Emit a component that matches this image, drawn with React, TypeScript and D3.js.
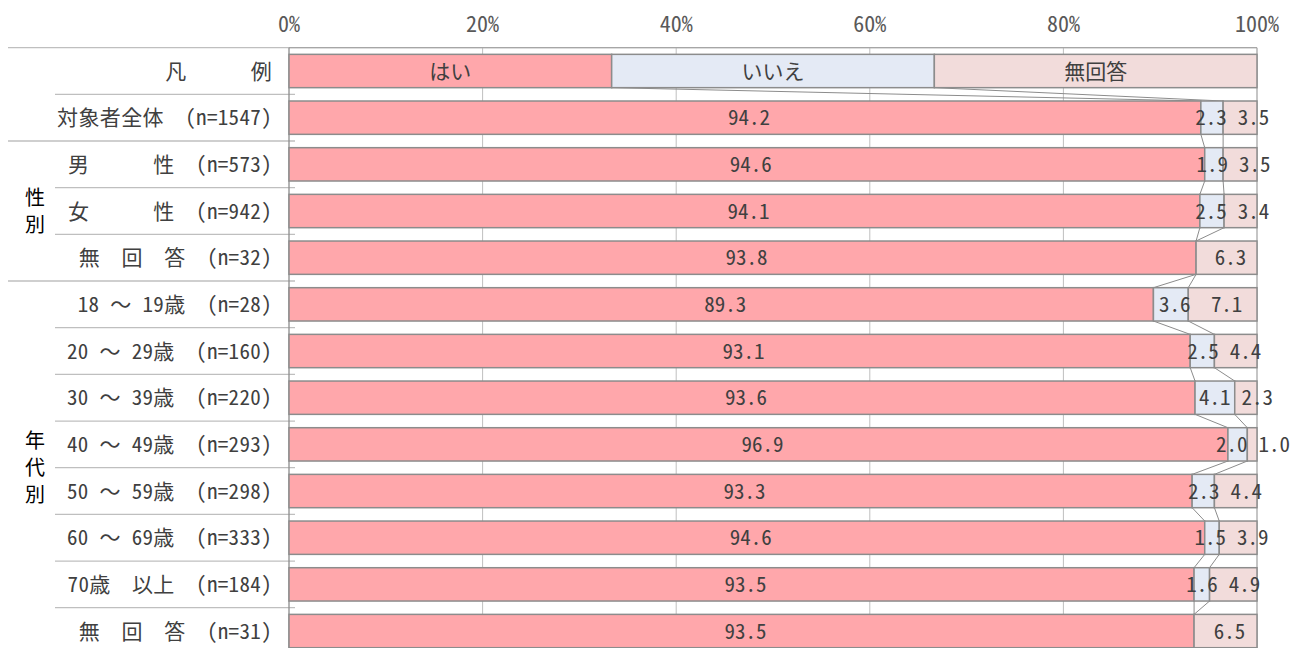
import React from 'react';
import * as d3 from 'd3';

// series / categories
const seriesKeys = ['yes', 'no', 'na'];
const seriesNames = ['はい', 'いいえ', '無回答'];
const seriesColors = ['#ffa7ab', '#e4eaf5', '#f2dcdb'];

const legendLabel = '凡　　　例';
const rowLabels = [
  '対象者全体　(n=1547)',
  '男　　　性　(n=573)',
  '女　　　性　(n=942)',
  '無　回　答　(n=32)',
  '18 ～ 19歳　(n=28)',
  '20 ～ 29歳　(n=160)',
  '30 ～ 39歳　(n=220)',
  '40 ～ 49歳　(n=293)',
  '50 ～ 59歳　(n=298)',
  '60 ～ 69歳　(n=333)',
  '70歳　以上　(n=184)',
  '無　回　答　(n=31)',
];
const yesValues = [94.2, 94.6, 94.1, 93.8, 89.3, 93.1, 93.6, 96.9, 93.3, 94.6, 93.5, 93.5];
const noValues = [2.3, 1.9, 2.5, 0, 3.6, 2.5, 4.1, 2.0, 2.3, 1.5, 1.6, 0];
const naValues = [3.5, 3.5, 3.4, 6.3, 7.1, 4.4, 2.3, 1.0, 4.4, 3.9, 4.9, 6.5];

const groupNames = ['性別', '年代別'];
const groupFirst = [1, 4]; // first data row (0-based) of each group
const groupLast = [3, 11];

const tickValues = [0, 20, 40, 60, 80, 100];

const W = 1293;
const H = 648;
const FONT = "'Noto Sans Mono CJK JP', 'Noto Sans CJK JP', 'DejaVu Sans Mono', sans-serif";
const HALF = 10.5; // width of a half-width glyph at 21px

export default function App() {
  const nRows = rowLabels.length + 1; // legend row on top
  const x = d3.scaleLinear().domain([0, 1]).range([289, 1257]);
  const y = d3
    .scaleBand<number>()
    .domain(d3.range(nRows))
    .range([47.67, 47.67 + nRows * 46.67])
    .paddingInner(0.286)
    .paddingOuter(0.143);
  const bw = y.bandwidth();
  const gap = y.step() - bw;

  const table = [{ yes: 1, no: 1, na: 1 }].concat(
    yesValues.map((v, i) => ({ yes: v, no: noValues[i], na: naValues[i] }))
  );
  const raw = [null as any].concat(yesValues.map((v, i) => [v, noValues[i], naValues[i]]));
  const stacked = d3.stack<any>().keys(seriesKeys).offset(d3.stackOffsetExpand)(table);

  const rowTop = (i: number) => (y(i) as number) - gap / 2;
  const cy = (i: number) => (y(i) as number) + bw / 2;

  const connectors: any[] = [];
  for (let i = 0; i < nRows - 1; i++) {
    for (let k = 0; k < 2; k++) {
      connectors.push({
        x1: x(stacked[k][i][1]),
        y1: (y(i) as number) + bw,
        x2: x(stacked[k][i + 1][1]),
        y2: y(i + 1) as number,
      });
    }
  }

  // label positions: centred in the segment, small ones pushed apart
  const labels: any[] = [];
  for (let i = 0; i < nRows; i++) {
    const row: any[] = [];
    stacked.forEach((s, k) => {
      const d = s[i];
      if (d[1] - d[0] <= 0) return;
      const text = i === 0 ? seriesNames[k] : raw[i][k].toFixed(1);
      row.push({ k, i, text, cx: x((d[0] + d[1]) / 2) + (i === 0 ? 0 : 4), w: text.length * HALF });
    });
    if (i > 0) {
      for (let j = row.length - 1; j > 0; j--) {
        const a = row[j - 1];
        const b = row[j];
        const space = b.cx - b.w / 2 - (a.cx + a.w / 2);
        if (space < 11) {
          const need = 11 - space;
          b.cx += need * 0.65;
          if (a.k !== 0) a.cx -= need * 0.35;
          else b.cx += need * 0.35;
        }
      }
    }
    labels.push(...row);
  }

  return (
    <svg
      width={W}
      height={H}
      style={{ position: 'absolute', left: 0, top: 0, background: '#fff', fontFamily: FONT }}
    >
      {/* axis labels */}
      {tickValues.map((t) => (
        <text key={t} x={x(t / 100)} y={32} textAnchor="middle" fontSize={22} fill="#595959">
          {t}%
        </text>
      ))}

      {/* gridlines */}
      {tickValues.slice(1, -1).map((t) => (
        <line key={t} x1={x(t / 100)} x2={x(t / 100)} y1={y.range()[0]} y2={H} stroke="#bfbfbf" />
      ))}

      {/* row separators in the label area */}
      {d3.range(nRows).map((i) => {
        const full = i === 0 || groupFirst.includes(i - 1);
        return (
          <line
            key={i}
            x1={full ? 8 : 55}
            x2={i === 0 ? 1257 : 295}
            y1={rowTop(i)}
            y2={rowTop(i)}
            stroke={'#bfbfbf'}
            strokeWidth={1.3}
          />
        );
      })}
      <line x1={289} x2={1257} y1={rowTop(0)} y2={rowTop(0)} stroke="#a6a6a6" strokeWidth={1.3} />
      <line x1={289} x2={289} y1={rowTop(0)} y2={H} stroke="#8c8c8c" strokeWidth={1.3} />
      <line x1={1257} x2={1257} y1={rowTop(0)} y2={H} stroke="#a6a6a6" strokeWidth={1.3} />

      {/* series lines */}
      {connectors.map((c, i) => (
        <line key={i} {...c} stroke="#8c8c8c" strokeWidth={1} />
      ))}

      {/* bars */}
      {stacked.map((s, k) => (
        <g key={k} fill={seriesColors[k]} stroke="#8c8c8c" strokeWidth={1.5}>
          {s.map((d, i) =>
            d[1] - d[0] > 0 ? (
              <rect key={i} x={x(d[0])} y={y(i)} width={x(d[1]) - x(d[0])} height={bw} />
            ) : null
          )}
        </g>
      ))}

      {/* bar labels */}
      <g fontSize={21} fill="#404040" textAnchor="middle">
        {labels.map((l) => (
          <text key={l.i + '-' + l.k} x={l.cx} y={cy(l.i) + 7.5}>
            {l.text}
          </text>
        ))}
      </g>

      {/* row labels */}
      <g fontSize={21} fill="#404040" textAnchor="end" letterSpacing={0.35} style={{ whiteSpace: 'pre' }}>
        {[legendLabel].concat(rowLabels).map((l, i) => (
          <text key={i} x={272} y={cy(i) + 7.5}>
            {l}
          </text>
        ))}
      </g>

      {/* group labels, vertical */}
      <g fontSize={20} fill="#000" textAnchor="middle">
        {groupNames.map((g, gi) => {
          const mid = (cy(groupFirst[gi] + 1) + cy(groupLast[gi] + 1)) / 2;
          const chars = g.split('');
          return chars.map((ch, j) => (
            <text key={gi + '-' + j} x={35} y={mid + (j - (chars.length - 1) / 2) * 27 + 7}>
              {ch}
            </text>
          ));
        })}
      </g>
    </svg>
  );
}
